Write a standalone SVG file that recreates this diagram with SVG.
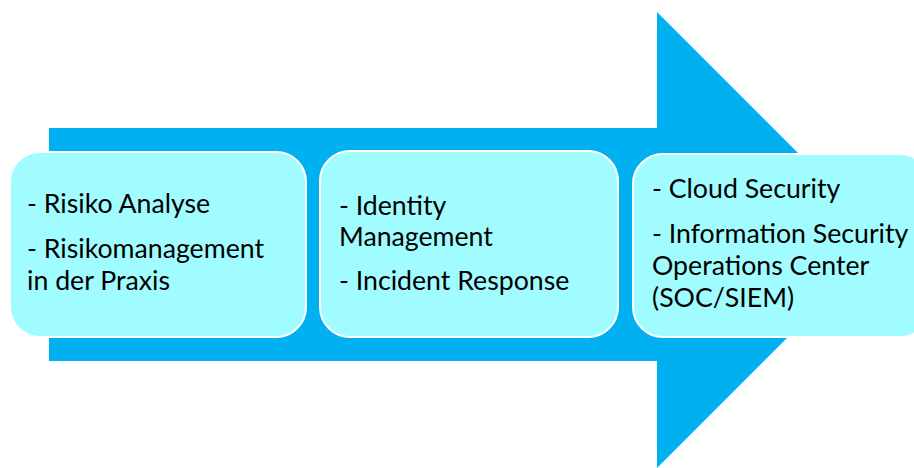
<svg xmlns="http://www.w3.org/2000/svg" width="914" height="468" viewBox="0 0 914 468">
  <style>
    .box { fill: #A0FCFF; stroke: #FFFFFF; stroke-width: 2; }
    .label { font-family: Lato, "Open Sans", sans-serif; font-size: 26.7px; fill: #000000; }
  </style>
  <rect width="914" height="468" fill="#FFFFFF"/>
  <!-- big process arrow in the background -->
  <g id="arrow">
    <path d="M49,128 L657,128 L657,12 L885,240 L657,468 L657,361 L49,361 Z" fill="#00B0F0"/>
  </g>
  <g id="connectors"></g>
  <g id="step1">
    <rect class="box" x="10" y="152" width="296" height="185" rx="30" ry="30"/>
    <text class="label" x="27" y="213">- Risiko Analyse</text>
    <text class="label" x="27" y="258">- Risikomanagement</text>
    <text class="label" x="27" y="290">in der Praxis</text>
  </g>
  <g id="step2">
    <rect class="box" x="320" y="151" width="298" height="186" rx="30" ry="30"/>
    <text class="label" x="339" y="215">- Identity</text>
    <text class="label" x="339" y="246">Management</text>
    <text class="label" x="339" y="290">- Incident Response</text>
  </g>
  <g id="step3">
    <rect class="box" x="633" y="154" width="297" height="183" rx="30" ry="30"/>
    <text class="label" x="652" y="198">- Cloud Security</text>
    <text class="label" x="652" y="243">- Information Security</text>
    <text class="label" x="652" y="275">Operations Center</text>
    <text class="label" x="652" y="307">(SOC/SIEM)</text>
  </g>
</svg>
